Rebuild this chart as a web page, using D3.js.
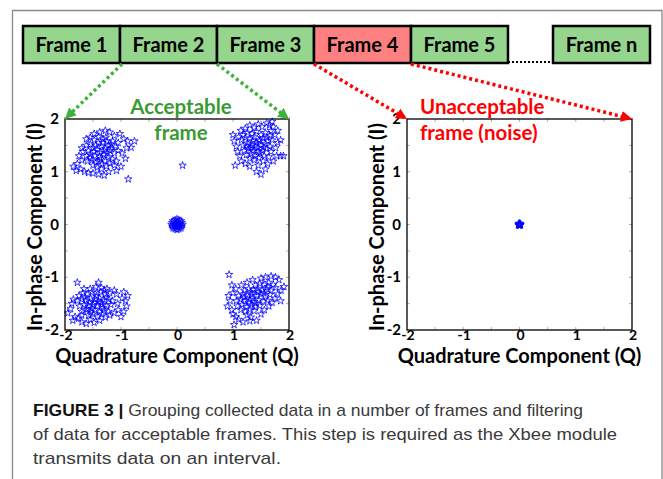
<!DOCTYPE html>
<html>
<head>
<meta charset="utf-8">
<script src="https://cdn.jsdelivr.net/npm/d3@7/dist/d3.min.js"></script>
<style>
  body { margin: 0; background: #fff; }
</style>
</head>
<body>
<svg id="svg-main" width="663" height="479"></svg>
<script>
// frames along the top
var frameLabels = ["Frame 1", "Frame 2", "Frame 3", "Frame 4", "Frame 5", "Frame n"];
var frameOk = [true, true, true, false, true, true];

var ticks = [-2, -1, 0, 1, 2];
var minorTicks = [-1.5, -0.5, 0.5, 1.5];

// acceptable frame (Q, I)
var clusterTopLeft = [
  [-1.55,1.52],[-1.48,1.60],[-1.40,1.55],[-1.32,1.62],[-1.25,1.58],[-1.18,1.52],[-1.10,1.48],[-1.05,1.40],
  [-1.58,1.40],[-1.50,1.45],[-1.42,1.42],[-1.35,1.48],[-1.28,1.44],[-1.20,1.40],[-1.12,1.35],
  [-1.62,1.30],[-1.55,1.33],[-1.46,1.30],[-1.38,1.36],[-1.30,1.32],[-1.22,1.28],[-1.15,1.24],[-1.08,1.20],
  [-1.60,1.20],[-1.52,1.22],[-1.44,1.18],[-1.36,1.24],[-1.28,1.20],[-1.20,1.16],[-1.12,1.12],
  [-1.50,1.12],[-1.42,1.08],[-1.34,1.14],[-1.26,1.10],
  [-1.45,1.50],[-1.38,1.28],[-1.30,1.40],[-1.25,1.35],[-1.33,1.55],[-1.40,1.20],[-1.18,1.44],[-1.48,1.38],
  [-1.55,1.26],[-1.22,1.50],[-1.15,1.58],[-1.35,1.05],[-1.27,1.65],[-1.40,1.66],
  [-1.85,1.10],[-1.78,1.15],[-1.72,1.05],[-1.65,1.00],[-1.58,0.98],[-1.50,0.97],[-1.40,0.95],[-1.30,0.93],
  [-1.22,1.00],[-1.70,1.22],[-1.75,1.30],[-1.68,1.38],[-1.62,1.50],[-1.55,1.65],[-1.48,1.72],[-1.38,1.75],
  [-1.28,1.78],[-1.12,1.68],[-1.02,1.72],[-0.95,1.62],[-0.88,1.58],[-0.76,1.58],[-0.82,1.46],[-0.90,1.45],
  [-0.98,1.35],[-0.92,1.25],[-1.00,1.10],[-1.08,1.02],[-0.87,0.86],[-1.80,1.02],[-1.62,1.62],[-1.20,1.75],
  [-1.05,1.55],[-1.70,1.45]
];
var clusterTopRight = [
  [1.18,1.70],[1.26,1.74],[1.34,1.72],[1.42,1.76],[1.50,1.70],[1.58,1.74],[1.66,1.68],
  [1.15,1.60],[1.22,1.64],[1.30,1.62],[1.38,1.66],[1.46,1.60],[1.54,1.64],[1.62,1.58],[1.70,1.60],
  [1.18,1.50],[1.26,1.54],[1.34,1.50],[1.42,1.55],[1.50,1.50],[1.58,1.53],[1.66,1.48],
  [1.20,1.40],[1.28,1.44],[1.36,1.40],[1.44,1.45],[1.52,1.40],[1.60,1.43],[1.68,1.38],
  [1.24,1.32],[1.32,1.34],[1.40,1.30],[1.48,1.35],[1.56,1.30],[1.64,1.28],
  [1.30,1.25],[1.38,1.22],[1.46,1.26],[1.54,1.20],
  [1.40,1.48],[1.48,1.58],[1.35,1.58],[1.55,1.46],[1.45,1.38],[1.32,1.45],[1.60,1.65],[1.25,1.48],
  [1.02,1.58],[1.06,1.48],[1.10,1.66],[1.08,1.38],[1.12,1.30],[1.15,1.20],[1.04,1.12],[1.22,1.15],
  [1.30,1.10],[1.45,1.12],[1.42,1.00],[1.50,0.95],[1.62,1.15],[1.72,1.20],[1.78,1.30],[1.85,1.30],
  [1.90,1.30],[1.76,1.45],[1.80,1.55],[1.75,1.70],[1.80,1.78],[1.72,1.85],[1.65,1.88],[1.70,1.95],
  [1.60,1.92],[1.52,1.85],[1.45,1.90],[1.38,1.84],[1.30,1.88],[1.22,1.82],[1.14,1.78],[1.00,1.70],
  [1.58,1.05],[1.85,1.60],[1.68,1.78]
];
var clusterBottomLeft = [
  [-1.75,-1.35],[-1.68,-1.30],[-1.60,-1.32],[-1.52,-1.28],[-1.44,-1.30],[-1.36,-1.28],[-1.28,-1.32],[-1.20,-1.30],
  [-1.78,-1.45],[-1.70,-1.42],[-1.62,-1.44],[-1.54,-1.40],[-1.46,-1.42],[-1.38,-1.40],[-1.30,-1.44],[-1.22,-1.42],[-1.15,-1.45],
  [-1.74,-1.55],[-1.66,-1.52],[-1.58,-1.55],[-1.50,-1.52],[-1.42,-1.55],[-1.34,-1.52],[-1.26,-1.55],[-1.18,-1.52],
  [-1.70,-1.65],[-1.62,-1.62],[-1.54,-1.66],[-1.46,-1.62],[-1.38,-1.66],[-1.30,-1.62],[-1.22,-1.65],
  [-1.58,-1.72],[-1.50,-1.70],[-1.42,-1.74],[-1.34,-1.70],
  [-1.48,-1.48],[-1.40,-1.46],[-1.56,-1.48],[-1.32,-1.58],[-1.64,-1.38],[-1.44,-1.36],[-1.26,-1.38],
  [-1.52,-1.60],[-1.36,-1.48],[-1.60,-1.60],
  [-1.95,-1.68],[-1.90,-1.60],[-1.88,-1.50],[-1.85,-1.42],[-1.82,-1.75],[-1.86,-1.82],[-1.76,-1.78],[-1.70,-1.85],
  [-1.62,-1.88],[-1.55,-1.80],[-1.48,-1.86],[-1.38,-1.82],[-1.28,-1.76],[-1.20,-1.72],[-1.12,-1.68],[-1.05,-1.62],
  [-0.95,-1.65],[-0.90,-1.55],[-0.92,-1.45],[-0.88,-1.35],[-0.98,-1.40],[-1.06,-1.50],[-1.08,-1.32],[-1.12,-1.25],
  [-1.25,-1.22],[-1.35,-1.20],[-1.45,-1.18],[-1.55,-1.22],[-1.66,-1.22],[-1.78,-1.10],[-1.40,-1.10],[-1.30,-1.25],
  [-1.00,-1.75],[-0.95,-1.28],[-1.70,-1.72]
];
var clusterBottomRight = [
  [1.40,-1.15],[1.48,-1.12],[1.56,-1.14],[1.64,-1.10],[1.72,-1.14],
  [1.20,-1.25],[1.28,-1.22],[1.36,-1.24],[1.44,-1.22],[1.52,-1.25],[1.60,-1.22],[1.68,-1.25],
  [1.10,-1.35],[1.18,-1.32],[1.26,-1.35],[1.34,-1.32],[1.42,-1.35],[1.50,-1.32],[1.58,-1.36],[1.66,-1.33],
  [1.06,-1.45],[1.14,-1.42],[1.22,-1.45],[1.30,-1.42],[1.38,-1.46],[1.46,-1.43],[1.54,-1.46],[1.62,-1.44],
  [1.08,-1.55],[1.16,-1.52],[1.24,-1.56],[1.32,-1.53],[1.40,-1.56],[1.48,-1.54],
  [1.14,-1.62],[1.22,-1.65],[1.30,-1.62],[1.38,-1.64],
  [1.35,-1.40],[1.28,-1.48],[1.45,-1.28],[1.55,-1.30],[1.20,-1.38],[1.40,-1.50],[1.62,-1.18],[1.32,-1.28],
  [0.93,-0.95],[0.92,-1.35],[0.95,-1.45],[0.90,-1.55],[0.98,-1.62],[1.00,-1.70],[1.05,-1.75],[1.10,-1.80],
  [1.18,-1.85],[1.25,-1.72],[1.32,-1.76],[1.42,-1.82],[1.50,-1.70],[1.56,-1.62],[1.64,-1.55],[1.70,-1.48],
  [1.75,-1.40],[1.80,-1.32],[1.86,-1.25],[1.91,-1.18],[1.82,-1.05],[1.76,-1.00],[1.68,-0.98],[1.58,-1.00],
  [1.50,-1.02],[1.35,-1.05],[1.25,-1.10],[1.15,-1.15],[1.05,-1.22],[0.98,-1.15],[1.02,-1.90],[1.30,-1.83],
  [1.76,-1.20],[1.85,-1.45],[1.00,-1.30]
];
var clusterCenter = [
  [0,0],[0.05,0],[-0.05,0],[0,0.05],[0,-0.05],[0.1,0],[-0.1,0],[0,0.1],[0,-0.1],
  [0.07,0.07],[-0.07,0.07],[0.07,-0.07],[-0.07,-0.07],
  [0.035,0.085],[-0.035,0.085],[0.035,-0.085],[-0.035,-0.085],
  [0.085,0.035],[-0.085,0.035],[0.085,-0.035],[-0.085,-0.035],
  [0.04,0.04],[-0.04,0.04],[0.04,-0.04],[-0.04,-0.04]
];
var strayPoints = [[0.1, 1.12]];

// unacceptable frame (noise): everything sits at the origin
var noisePoints = [
  [0,0],[0.02,0],[-0.02,0],[0,0.02],[0,-0.02],
  [0.015,0.015],[-0.015,0.015],[0.015,-0.015],[-0.015,-0.015]
];

var captionLines = [
  "Grouping collected data in a number of frames and filtering",
  "of data for acceptable frames. This step is required as the Xbee module",
  "transmits data on an interval."
];
var captionWidths = [550, 584, 248];

var svg = d3.select("#svg-main");
var green = "#3a9a33", red = "#ff0000";

// outer border
svg.append("path")
  .attr("d", "M12.5,479 L12.5,10.5 L662,10.5 L662,479")
  .attr("fill", "none")
  .attr("stroke", "#8a8a8a")
  .attr("stroke-width", 1.3);

// arrow heads
var defs = svg.append("defs");
[["arrow-green", "#3db33a"], ["arrow-red", red]].forEach(function(m) {
  defs.append("marker")
    .attr("id", m[0])
    .attr("viewBox", "0 0 10 10")
    .attr("refX", 10).attr("refY", 5)
    .attr("markerWidth", 11).attr("markerHeight", 11)
    .attr("markerUnits", "userSpaceOnUse")
    .attr("orient", "auto")
    .append("path")
    .attr("d", "M0,0 L10,5 L0,10 Z")
    .attr("fill", m[1]);
});

// frame boxes
var fx = d3.scaleBand().domain(d3.range(5)).range([23, 508]);
var frameX = function(i) { return i < 5 ? fx(i) : 553; };
var frameW = fx.bandwidth();

svg.append("line")
  .attr("x1", 508).attr("x2", 553)
  .attr("y1", 62).attr("y2", 62)
  .attr("stroke", "#000")
  .attr("stroke-width", 2)
  .attr("stroke-dasharray", "2,2");

svg.selectAll(".frame")
  .data(frameLabels)
  .enter()
  .append("rect")
  .attr("class", "frame")
  .attr("x", function(d, i) { return frameX(i); })
  .attr("y", 26)
  .attr("width", frameW)
  .attr("height", 37)
  .attr("fill", function(d, i) { return frameOk[i] ? "#95d58d" : "#ff8080"; })
  .attr("stroke", "#000")
  .attr("stroke-width", 2.5);

svg.selectAll(".frame-label")
  .data(frameLabels)
  .enter()
  .append("text")
  .attr("class", "frame-label")
  .attr("x", function(d, i) { return frameX(i) + frameW / 2; })
  .attr("y", 52)
  .attr("text-anchor", "middle")
  .attr("font-family", "Lato, sans-serif")
  .attr("font-weight", "bold")
  .style("font-size", "20px")
  .attr("fill", "#000")
  .text(function(d) { return d; });

// one scatter panel
function drawPanel(left, right, series, title, titleColor, titleX, titleAnchor) {
  var x = d3.scaleLinear().domain([-2, 2]).range([left, right]);
  var y = d3.scaleLinear().domain([-2, 2]).range([330, 119]);
  var g = svg.append("g");

  g.append("rect")
    .attr("x", left).attr("y", 119)
    .attr("width", right - left).attr("height", 211)
    .attr("fill", "#fff");

  var all = ticks.concat(minorTicks);
  // small inward ticks on all four sides
  all.forEach(function(t) {
    if (t > -2 && t < 2) {
      [[x(t), 330, x(t), 327], [x(t), 119, x(t), 122],
       [left, y(t), left + 3, y(t)], [right, y(t), right - 3, y(t)]].forEach(function(s) {
        g.append("line")
          .attr("x1", s[0]).attr("y1", s[1]).attr("x2", s[2]).attr("y2", s[3])
          .attr("stroke", "#b0b0b0").attr("stroke-width", 1);
      });
    }
  });

  var star = d3.symbol().type(d3.symbolStar).size(17);
  series.forEach(function(pts) {
    g.selectAll(null)
      .data(pts)
      .enter()
      .append("path")
      .attr("d", star)
      .attr("transform", function(d) { return "translate(" + x(d[0]) + "," + y(d[1]) + ")"; })
      .attr("fill", "none")
      .attr("stroke", "#0000ff")
      .attr("stroke-width", 0.9)
      .attr("stroke-opacity", 0.85);
  });

  g.append("rect")
    .attr("x", left).attr("y", 119)
    .attr("width", right - left).attr("height", 211)
    .attr("fill", "none")
    .attr("stroke", "#000")
    .attr("stroke-width", 1.3);

  g.selectAll(".xt")
    .data(ticks)
    .enter()
    .append("text")
    .attr("x", function(d) { return x(d) + 1; })
    .attr("y", 340)
    .attr("text-anchor", "middle")
    .attr("font-family", "Lato, sans-serif")
    .attr("font-weight", "bold")
    .style("font-size", "14px")
    .text(function(d) { return d; });

  g.selectAll(".yt")
    .data(ticks)
    .enter()
    .append("text")
    .attr("x", left - 6)
    .attr("y", function(d) { return y(d) + 5; })
    .attr("text-anchor", "end")
    .attr("font-family", "Lato, sans-serif")
    .attr("font-weight", "bold")
    .style("font-size", "15px")
    .text(function(d) { return d; });

  g.append("text")
    .attr("x", (left + right) / 2)
    .attr("y", 363)
    .attr("text-anchor", "middle")
    .attr("font-family", "Lato, sans-serif")
    .attr("font-weight", "bold")
    .style("font-size", "20px")
    .text("Quadrature Component (Q)");

  g.append("text")
    .attr("transform", "translate(" + (left - 23) + ",227) rotate(-90)")
    .attr("text-anchor", "middle")
    .attr("font-family", "Lato, sans-serif")
    .attr("font-weight", "bold")
    .style("font-size", "20px")
    .text("In-phase Component (I)");

  g.selectAll(".title")
    .data(title)
    .enter()
    .append("text")
    .attr("x", titleX)
    .attr("y", function(d, i) { return 114 + i * 26; })
    .attr("text-anchor", titleAnchor)
    .attr("font-family", "Lato, sans-serif")
    .attr("font-weight", "bold")
    .style("font-size", "20.5px")
    .attr("fill", titleColor)
    .text(function(d) { return d; });
}

drawPanel(65, 289,
  [clusterTopLeft, clusterTopRight, clusterBottomLeft, clusterBottomRight, clusterCenter, strayPoints],
  ["Acceptable", "frame"], green, 181, "middle");
drawPanel(407, 632, [noisePoints],
  ["Unacceptable", "frame (noise)"], red, 420, "start");

// dotted arrows from the frames to the panels
var arrows = [
  [122, 64, 65, 119, "#3db33a", "arrow-green"],
  [217, 64, 289, 119, "#3db33a", "arrow-green"],
  [314, 64, 407, 119, red, "arrow-red"],
  [411, 64, 632, 119, red, "arrow-red"]
];
arrows.forEach(function(a) {
  svg.append("line")
    .attr("x1", a[0]).attr("y1", a[1])
    .attr("x2", a[2]).attr("y2", a[3])
    .attr("stroke", a[4])
    .attr("stroke-width", 3.5)
    .attr("stroke-dasharray", "3,3")
    .attr("marker-end", "url(#" + a[5] + ")");
});

// caption
var cap = svg.selectAll(".cap")
  .data(captionLines)
  .enter()
  .append("text")
  .attr("class", "cap")
  .attr("x", 33)
  .attr("y", function(d, i) { return 416 + i * 24; })
  .attr("textLength", function(d, i) { return captionWidths[i]; })
  .attr("lengthAdjust", "spacingAndGlyphs")
  .attr("font-family", "'Liberation Sans', sans-serif")
  .style("font-size", "17px")
  .attr("fill", "#3a3a3a");

cap.each(function(d, i) {
  var t = d3.select(this);
  if (i == 0) {
    t.append("tspan").attr("font-weight", "bold").attr("fill", "#111").text("FIGURE 3 | ");
  }
  t.append("tspan").text(d);
});
</script>
</body>
</html>
